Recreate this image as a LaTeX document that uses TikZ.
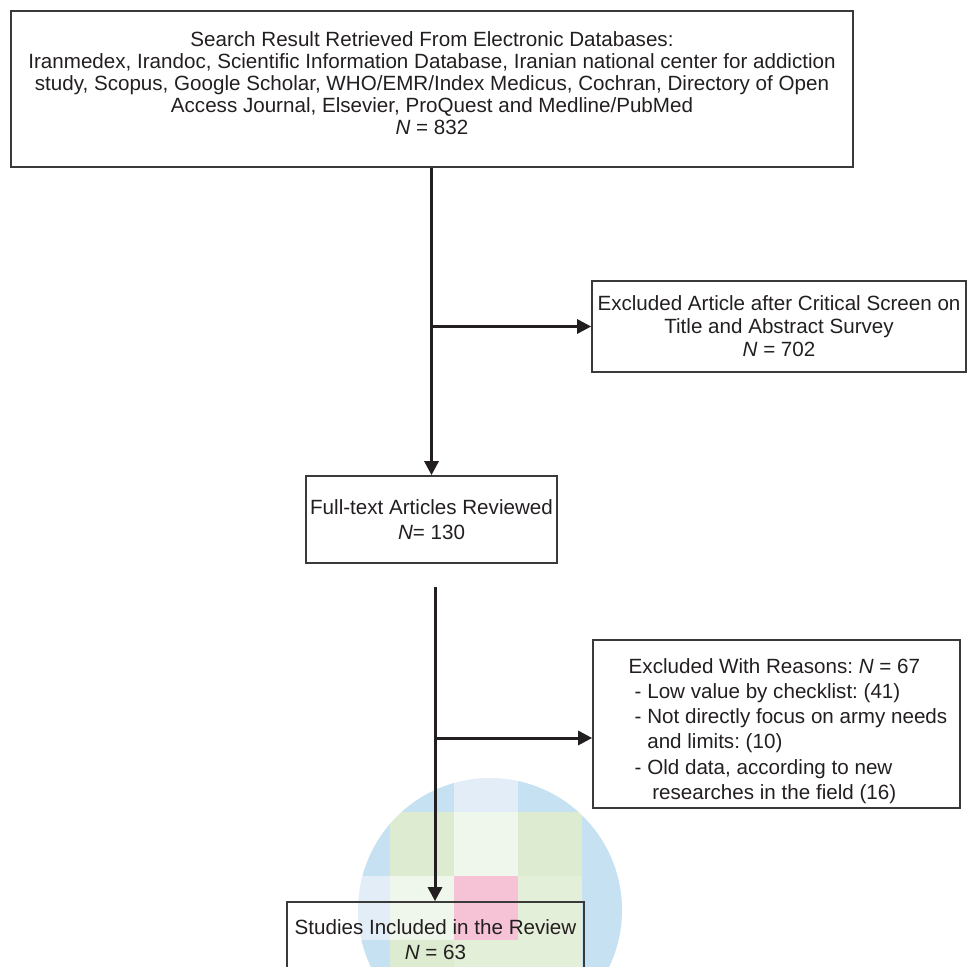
\documentclass[tikz,border=0pt]{standalone}
\usepackage{fontspec}
\setmainfont{Liberation Sans}
\usetikzlibrary{positioning,arrows.meta}
\frenchspacing

\definecolor{inkline}{HTML}{231F20}
\definecolor{boxgray}{HTML}{3A3A3A}
\definecolor{pixblue}{HTML}{C6E1F1}
\definecolor{pixpaleblue}{HTML}{E3EDF7}
\definecolor{pixgreen}{HTML}{DDECD0}
\definecolor{pixpalegreen}{HTML}{EFF6EC}
\definecolor{pixmidgreen}{HTML}{E3EFD9}
\definecolor{pixpink}{HTML}{F6C2D6}

\newcommand\pixsize{64}
\newcommand\drawpixel[3]{\fill[#3] (#1,#2) rectangle ++(\pixsize,\pixsize);}
\newcommand\rsn{\hspace*{11.5pt}}

\begin{document}
\begin{tikzpicture}[x=0.5pt,y=-0.5pt,
    box/.style={draw=boxgray,line width=0.85pt,inner sep=0pt,align=center,text=inkline},
    tight/.style={font=\fontsize{10.3}{10.9}\selectfont},
    loose/.style={font=\fontsize{10.3}{12.6}\selectfont},
    flow/.style={draw=inkline,line width=1.5pt,-{Triangle[length=7pt,width=7pt]}}
  ]
  \useasboundingbox (0,0) rectangle (967,967);
  \clip (0,0) rectangle (967,967);

  % pixelated blob behind the last box
  \begin{scope}
    \clip (490,910) circle (132);
    \drawpixel{326}{748}{pixblue}
    \drawpixel{390}{748}{pixblue}
    \drawpixel{454}{748}{pixpaleblue}
    \drawpixel{518}{748}{pixblue}
    \drawpixel{582}{748}{pixblue}

    \drawpixel{326}{812}{pixblue}
    \drawpixel{390}{812}{pixgreen}
    \drawpixel{454}{812}{pixpalegreen}
    \drawpixel{518}{812}{pixgreen}
    \drawpixel{582}{812}{pixblue}

    \drawpixel{326}{876}{pixpaleblue}
    \drawpixel{390}{876}{pixpalegreen}
    \drawpixel{454}{876}{pixpink}
    \drawpixel{518}{876}{pixmidgreen}
    \drawpixel{582}{876}{pixblue}

    \drawpixel{326}{940}{pixblue}
    \drawpixel{390}{940}{pixgreen}
    \drawpixel{454}{940}{pixmidgreen}
    \drawpixel{518}{940}{pixmidgreen}
    \drawpixel{582}{940}{pixblue}
  \end{scope}

  % boxes
  \node[box,tight,text depth=6pt,minimum width=421pt,minimum height=78pt] (search) at (432,89)
    {Search Result Retrieved From Electronic Databases:\\
     Iranmedex, Irandoc, Scientific Information Database, Iranian national center for addiction\\
     study, Scopus, Google Scholar, WHO/EMR/Index Medicus, Cochran, Directory of Open\\
     Access Journal, Elsevier, ProQuest and Medline/PubMed\\
     \textit{N} = 832};
  \node[box,font=\fontsize{10.3}{11.5}\selectfont,minimum width=187pt,minimum height=45.5pt] (screened) at (779,326.5)
    {Excluded Article after Critical Screen on\\Title and Abstract Survey\\\textit{N} = 702};
  \node[box,loose,minimum width=125.5pt,minimum height=43.5pt] (fulltext) at (431.5,519.5)
    {Full-text Articles Reviewed\\\textit{N}= 130};
  \node[box,loose,align=left,text height=77.5pt,minimum width=183.5pt,minimum height=84pt] (reasons) at (776.5,724)
    {\rsn Excluded With Reasons: \textit{N} = 67\\
     \rsn\hspace*{3pt}- Low value by checklist: (41)\\
     \rsn\hspace*{3pt}- Not directly focus on army needs\\
     \rsn\hspace*{3pt}\hphantom{- }and limits: (10)\\
     \rsn\hspace*{3pt}- Old data, according to new\\
     \rsn\hspace*{5.5pt}\hphantom{- }researches in the field (16)};
  \node[box,loose,minimum width=148.5pt,minimum height=37.5pt] (studies) at (435.5,939.5)
    {Studies Included in the Review\\\textit{N} = 63};

  % connectors
  \coordinate (trunkA) at (431.5,0);
  \coordinate (trunkB) at (435,587);
  \coordinate (splitB) at (435,738);

  \draw[flow] (search.south -| trunkA) -- (fulltext.north -| trunkA);
  \draw[flow] (screened.west -| trunkA) -- (screened.west);
  \draw[flow] (trunkB) -- (studies.north -| trunkB);
  \draw[flow] (splitB) -- (splitB -| reasons.west);
\end{tikzpicture}
\end{document}
